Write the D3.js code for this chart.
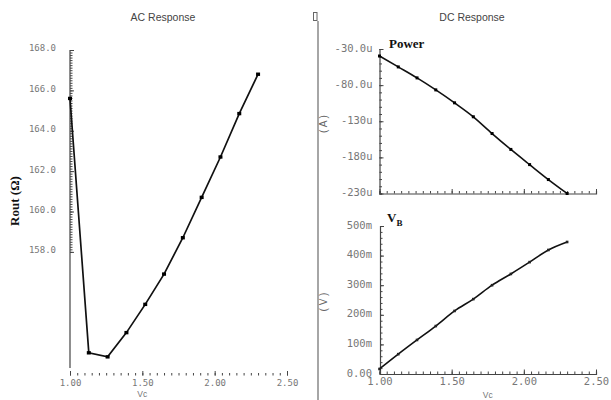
<!DOCTYPE html>
<html><head><meta charset="utf-8">
<script src="https://cdn.jsdelivr.net/npm/d3@7"></script>
<style>
html,body{margin:0;padding:0;background:#fff;}
svg{display:block;}
</style></head>
<body>
<script>
// ---- data ----
const vc = [1.00, 1.13, 1.26, 1.39, 1.52, 1.65, 1.78, 1.91, 2.04, 2.17, 2.30];
const rout = [165.6, 153.0, 152.8, 154.0, 155.4, 156.9, 158.7, 160.7, 162.7, 164.85, 166.8];
const powerCurrent = [-39.7, -54.8, -70, -86.6, -104.5, -123.8, -147, -169, -190, -210.7, -230]; // uA
const vb = [17, 67, 115, 162, 213, 253, 300, 338, 378, 419, 446]; // mV
const xTicks = [1.0, 1.5, 2.0, 2.5];
const xTickLabels = ["1.00", "1.50", "2.00", "2.50"];
const routTicks = [158, 160, 162, 164, 166, 168];
const routTickLabels = ["158.0", "160.0", "162.0", "164.0", "166.0", "168.0"];
const powerTicks = [-30, -80, -130, -180, -230];
const powerTickLabels = ["-30.0u", "-80.0u", "-130u", "-180u", "-230u"];
const vbTicks = [0, 100, 200, 300, 400, 500];
const vbTickLabels = ["0.00", "100m", "200m", "300m", "400m", "500m"];

const W = 611, H = 400;
const svg = d3.select("body").append("svg").attr("width", W).attr("height", H);
svg.append("rect").attr("width", W).attr("height", H).attr("fill", "#fff");

const monoFont = "DejaVu Sans Mono, Liberation Mono, monospace";
const sansFont = "Liberation Sans, Arial, sans-serif";
const serifFont = "Liberation Serif, Times New Roman, serif";
const tickCol = "#444", labCol = "#777", lineCol = "#111";

function styleAxis(g, fontSize){
  g.selectAll(".tick line").attr("stroke", tickCol).attr("stroke-width", 1);
  g.selectAll(".tick text").attr("fill", labCol).attr("font-family", monoFont).attr("font-size", fontSize);
  g.select(".domain").attr("stroke", "#444").attr("stroke-width", 1.2);
}
function minorAxis(axisFn, scale, vals, size){
  return axisFn(scale).tickValues(vals).tickSize(size).tickFormat("");
}

// ---- titles / separator ----
svg.append("text").attr("x", 163).attr("y", 21).attr("text-anchor", "middle")
  .attr("font-family", sansFont).attr("font-size", 10.5).attr("fill", "#444").text("AC Response");
svg.append("text").attr("x", 472).attr("y", 21).attr("text-anchor", "middle")
  .attr("font-family", sansFont).attr("font-size", 10.5).attr("fill", "#444").text("DC Response");
svg.append("line").attr("x1", 318).attr("x2", 318).attr("y1", 21).attr("y2", 400)
  .attr("stroke", "#888").attr("stroke-width", 1.5);
svg.append("rect").attr("x", 313.5).attr("y", 12.5).attr("width", 3.5).attr("height", 8)
  .attr("fill", "#fff").attr("stroke", "#666").attr("stroke-width", 1);

// ================= AC Response =================
const xL = d3.scaleLinear().domain([1.0, 2.5]).range([70, 287]);
const yL = d3.scaleLinear().domain([152, 168]).range([373, 50]);

svg.append("line").attr("x1", 70).attr("x2", 70).attr("y1", yL(168)).attr("y2", 368)
  .attr("stroke", "#444").attr("stroke-width", 1.2);
const gLYm = svg.append("g").attr("transform", "translate(70,0)")
  .call(minorAxis(d3.axisLeft, yL, d3.range(158, 168.001, 0.125), -2.5));
gLYm.select(".domain").remove(); styleAxis(gLYm, 9);
const gLY = svg.append("g").attr("transform", "translate(70,0)")
  .call(d3.axisLeft(yL).tickValues(routTicks).tickSize(-4).tickPadding(14)
    .tickFormat((d, i) => routTickLabels[i]));
gLY.select(".domain").remove(); styleAxis(gLY, 9);
gLY.selectAll(".tick text").attr("dy", "0.1em");

const gLXm = svg.append("g").attr("transform", "translate(0,375.5)")
  .call(minorAxis(d3.axisBottom, xL, d3.range(1.0, 2.5001, 0.05), -2.5));
gLXm.select(".domain").remove(); styleAxis(gLXm, 9);
const gLX = svg.append("g").attr("transform", "translate(0,375.5)")
  .call(d3.axisBottom(xL).tickValues(xTicks).tickSize(-4.5).tickPadding(4)
    .tickFormat((d, i) => xTickLabels[i]));
gLX.select(".domain").remove(); styleAxis(gLX, 9);

svg.append("text").attr("x", xL(1.5)).attr("y", 397).attr("text-anchor", "middle")
  .attr("font-family", sansFont).attr("font-size", 8.5).attr("fill", labCol).text("Vc");

svg.append("text").attr("transform", "translate(19,201) rotate(-90)").attr("text-anchor", "middle")
  .attr("font-family", serifFont).attr("font-weight", "bold").attr("font-size", 13).attr("fill", "#111")
  .text("Rout (Ω)");

const lineL = d3.line().x((d, i) => xL(vc[i])).y(d => yL(d));
svg.append("path").attr("d", lineL(rout)).attr("fill", "none").attr("stroke", lineCol).attr("stroke-width", 1.7);
svg.selectAll(".mL").data(rout).enter().append("rect")
  .attr("x", (d, i) => xL(vc[i]) - 2).attr("y", d => yL(d) - 1.7)
  .attr("width", 4).attr("height", 3.4).attr("fill", "#000");

// ================= DC Response: Power =================
const xR = d3.scaleLinear().domain([1.0, 2.5]).range([379.5, 596]);
const yP = d3.scaleLinear().domain([-230, -30]).range([193.5, 49]);

const gPYm = svg.append("g").attr("transform", "translate(379.5,0)")
  .call(minorAxis(d3.axisLeft, yP, d3.range(-230, -29.9, 10), -2.5));
styleAxis(gPYm, 10);
const gPY = svg.append("g").attr("transform", "translate(379.5,0)")
  .call(d3.axisLeft(yP).tickValues(powerTicks).tickSize(-4).tickPadding(7)
    .tickFormat((d, i) => powerTickLabels[i]));
gPY.select(".domain").remove(); styleAxis(gPY, 10.5);
gPY.selectAll(".tick text").attr("dy", "0.2em");

const gPXm = svg.append("g").attr("transform", "translate(0,193.5)")
  .call(minorAxis(d3.axisBottom, xR, d3.range(1.0, 2.5001, 0.05), -2.5));
styleAxis(gPXm, 10);
const gPX = svg.append("g").attr("transform", "translate(0,193.5)")
  .call(d3.axisBottom(xR).tickValues(xTicks).tickSize(-4.5).tickFormat(""));
gPX.select(".domain").remove(); styleAxis(gPX, 10);

svg.append("text").attr("transform", "translate(327,124) rotate(-90)").attr("text-anchor", "middle")
  .attr("font-family", sansFont).attr("font-size", 10).attr("fill", "#666").text("( A )");
svg.append("text").attr("x", 389).attr("y", 48)
  .attr("font-family", serifFont).attr("font-weight", "bold").attr("font-size", 13).attr("fill", "#111")
  .text("Power");

const lineP = d3.line().x((d, i) => xR(vc[i])).y(d => yP(d)).curve(d3.curveMonotoneX);
svg.append("path").attr("d", lineP(powerCurrent)).attr("fill", "none").attr("stroke", lineCol).attr("stroke-width", 1.6);
svg.selectAll(".mP").data(powerCurrent).enter().append("rect")
  .attr("x", (d, i) => xR(vc[i]) - 1.5).attr("y", d => yP(d) - 1.5)
  .attr("width", 3).attr("height", 3).attr("fill", "#000");

// ================= DC Response: V_B =================
const yV = d3.scaleLinear().domain([0, 500]).range([374, 226]);

const gVYm = svg.append("g").attr("transform", "translate(380,0)")
  .call(minorAxis(d3.axisLeft, yV, d3.range(0, 500.1, 20), -2.5));
styleAxis(gVYm, 10);
const gVY = svg.append("g").attr("transform", "translate(380,0)")
  .call(d3.axisLeft(yV).tickValues(vbTicks).tickSize(-4).tickPadding(8)
    .tickFormat((d, i) => vbTickLabels[i]));
gVY.select(".domain").remove(); styleAxis(gVY, 10.5);
gVY.selectAll(".tick text").attr("dy", "0.2em");

const gVXm = svg.append("g").attr("transform", "translate(0,374)")
  .call(minorAxis(d3.axisBottom, xR, d3.range(1.0, 2.5001, 0.05), -2.5));
styleAxis(gVXm, 10);
const gVX = svg.append("g").attr("transform", "translate(0,374)")
  .call(d3.axisBottom(xR).tickValues(xTicks).tickSize(-4.5).tickPadding(4)
    .tickFormat((d, i) => xTickLabels[i]));
gVX.select(".domain").remove(); styleAxis(gVX, 10.5);

svg.append("text").attr("x", xR(1.75)).attr("y", 398).attr("text-anchor", "middle")
  .attr("font-family", sansFont).attr("font-size", 8.5).attr("fill", labCol).text("Vc");

svg.append("text").attr("transform", "translate(327,302) rotate(-90)").attr("text-anchor", "middle")
  .attr("font-family", sansFont).attr("font-size", 10).attr("fill", "#666").text("( V )");
const vbLab = svg.append("text").attr("x", 387).attr("y", 222)
  .attr("font-family", serifFont).attr("font-weight", "bold").attr("font-size", 13).attr("fill", "#111");
vbLab.append("tspan").text("V");
vbLab.append("tspan").attr("dy", 4).attr("font-size", 9).text("B");

const lineV = d3.line().x((d, i) => xR(vc[i])).y(d => yV(d)).curve(d3.curveMonotoneX);
svg.append("path").attr("d", lineV(vb)).attr("fill", "none").attr("stroke", lineCol).attr("stroke-width", 1.6);
svg.selectAll(".mV").data(vb).enter().append("rect")
  .attr("x", (d, i) => xR(vc[i]) - 1.3).attr("y", d => yV(d) - 1.3)
  .attr("width", 2.6).attr("height", 2.6).attr("fill", "#222");
</script>
</body></html>
